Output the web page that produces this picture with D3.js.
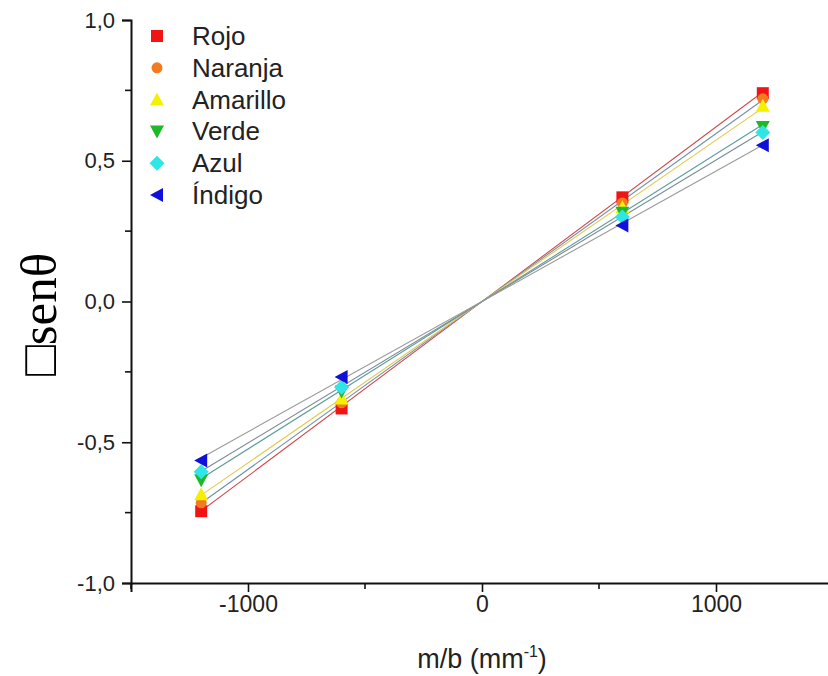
<!DOCTYPE html>
<html>
<head>
<meta charset="utf-8">
<script src="https://cdn.jsdelivr.net/npm/d3@7"></script>
<style>
  html, body { margin: 0; padding: 0; background: #fff; }
  svg { display: block; }
</style>
</head>
<body>
<svg id="chart" width="828" height="676"></svg>
<script>
// ---- Data ----
const xValues = [-1200, -600, 600, 1200];
const seriesNames = ["Rojo", "Naranja", "Amarillo", "Verde", "Azul", "Índigo"];
const rojo     = [-0.745, -0.380, 0.370, 0.740];
const naranja  = [-0.715, -0.360, 0.350, 0.720];
const amarillo = [-0.685, -0.345, 0.335, 0.695];
const verde    = [-0.635, -0.320, 0.315, 0.620];
const azul     = [-0.605, -0.305, 0.300, 0.600];
const indigo   = [-0.565, -0.268, 0.270, 0.555];
const xTicks = [-1000, 0, 1000];
const xMinorTicks = [-1500, -500, 500, 1500];
const yTicks = [-1.0, -0.5, 0.0, 0.5, 1.0];
const yMinorTicks = [-0.75, -0.25, 0.25, 0.75];
const xTitle = "m/b (mm";
const yTitle = "\u25A1senθ";

const markerColors = ["#f01414", "#f47a20", "#f5f000", "#1fb82a", "#2de6e6", "#1010d8"];
const lineColors   = ["#d24a4a", "#6f8fb0", "#e2c94a", "#5c9c9c", "#7b8a96", "#9a9a9a"];
const shapes = ["square", "circle", "up", "down", "diamond", "left"];
const allSeries = [rojo, naranja, amarillo, verde, azul, indigo];

// ---- Layout ----
const svg = d3.select("#chart");
const x = d3.scaleLinear().domain([-1500, 1500]).range([131, 833]);
const y = d3.scaleLinear().domain([-1, 1]).range([583, 20]);

const fmtY = v => d3.format(".1f")(v).replace("−", "-").replace(".", ",");

// fit lines (least squares through origin)
const g = svg.append("g");
allSeries.forEach((vals, i) => {
  const sxy = d3.sum(xValues, (xv, k) => xv * vals[k]);
  const sxx = d3.sum(xValues, xv => xv * xv);
  const slope = sxy / sxx;
  const x0 = d3.min(xValues), x1 = d3.max(xValues);
  g.append("line")
    .attr("x1", x(x0)).attr("y1", y(slope * x0))
    .attr("x2", x(x1)).attr("y2", y(slope * x1))
    .attr("stroke", lineColors[i]).attr("stroke-width", 1.1);
});

function markerPath(shape, s) {
  const h = s / 2;
  switch (shape) {
    case "square": return `M${-h},${-h}H${h}V${h}H${-h}Z`;
    case "up": return `M0,${-h - 1}L${h + 1},${h}L${-h - 1},${h}Z`;
    case "down": return `M0,${h + 1}L${h + 1},${-h}L${-h - 1},${-h}Z`;
    case "diamond": return `M0,${-h - 1.5}L${h + 1.5},0L0,${h + 1.5}L${-h - 1.5},0Z`;
    case "left": return `M${-h - 1},0L${h},${-h - 1}L${h},${h + 1}Z`;
    default: return null;
  }
}
function drawMarker(sel, shape, color, cx, cy, s) {
  if (shape === "circle") {
    sel.append("circle").attr("cx", cx).attr("cy", cy).attr("r", s / 2 - 0.5).attr("fill", color);
  } else {
    sel.append("path").attr("d", markerPath(shape, s))
      .attr("transform", `translate(${cx},${cy})`).attr("fill", color);
  }
}

// markers
allSeries.forEach((vals, i) => {
  const mg = svg.append("g");
  vals.forEach((v, k) => drawMarker(mg, shapes[i], markerColors[i], x(xValues[k]), y(v), 12));
});

// ---- Axes ----
const axisColor = "#111";
const xAxis = svg.append("g").attr("transform", `translate(0,${y(-1)})`)
  .call(d3.axisBottom(x).tickValues(xTicks).tickSize(9).tickPadding(4).tickFormat(d => String(d)));
xAxis.append("g").selectAll("line").data(xMinorTicks).join("line")
  .attr("x1", d => x(d)).attr("x2", d => x(d)).attr("y1", 0).attr("y2", 6)
  .attr("stroke", axisColor).attr("stroke-width", 1.6);
const yAxis = svg.append("g").attr("transform", `translate(${x(-1500)},0)`)
  .call(d3.axisLeft(y).tickValues(yTicks).tickSize(9).tickPadding(7).tickFormat(fmtY));
yAxis.append("g").selectAll("line").data(yMinorTicks).join("line")
  .attr("x1", 0).attr("x2", -6).attr("y1", d => y(d)).attr("y2", d => y(d))
  .attr("stroke", axisColor).attr("stroke-width", 1.6);

[xAxis, yAxis].forEach(a => {
  a.select(".domain").attr("stroke", axisColor).attr("stroke-width", 2);
  a.selectAll(".tick line").attr("stroke", axisColor).attr("stroke-width", 1.6);
  a.selectAll(".tick text").attr("fill", "#222")
    .style("font-family", "'Liberation Sans', Arial, sans-serif");
});
xAxis.selectAll(".tick text").style("font-size", "23px");
yAxis.selectAll(".tick text").style("font-size", "22px");

// axis titles
const xt = svg.append("text").attr("x", x(0)).attr("y", 668).attr("text-anchor", "middle")
  .style("font-family", "'Liberation Sans', Arial, sans-serif").style("font-size", "27px").attr("fill", "#222");
xt.append("tspan").text(xTitle);
xt.append("tspan").attr("dy", -11).style("font-size", "16px").text("-1");
xt.append("tspan").attr("dy", 11).text(")");

svg.append("text")
  .attr("transform", `translate(56,${y(0) + 13}) rotate(-90)`)
  .attr("text-anchor", "middle")
  .style("font-family", "'Liberation Serif', 'Times New Roman', serif").style("font-size", "51px")
  .attr("fill", "#000")
  .text(yTitle);

// ---- Legend ----
const legend = svg.append("g");
seriesNames.forEach((name, i) => {
  const ly = 36 + i * 31.8;
  drawMarker(legend, shapes[i], markerColors[i], 157, ly, 12);
  legend.append("text").attr("x", 192).attr("y", ly + 9)
    .style("font-family", "'Liberation Sans', Arial, sans-serif").style("font-size", "26px")
    .attr("fill", "#222").text(name);
});
</script>
</body>
</html>
